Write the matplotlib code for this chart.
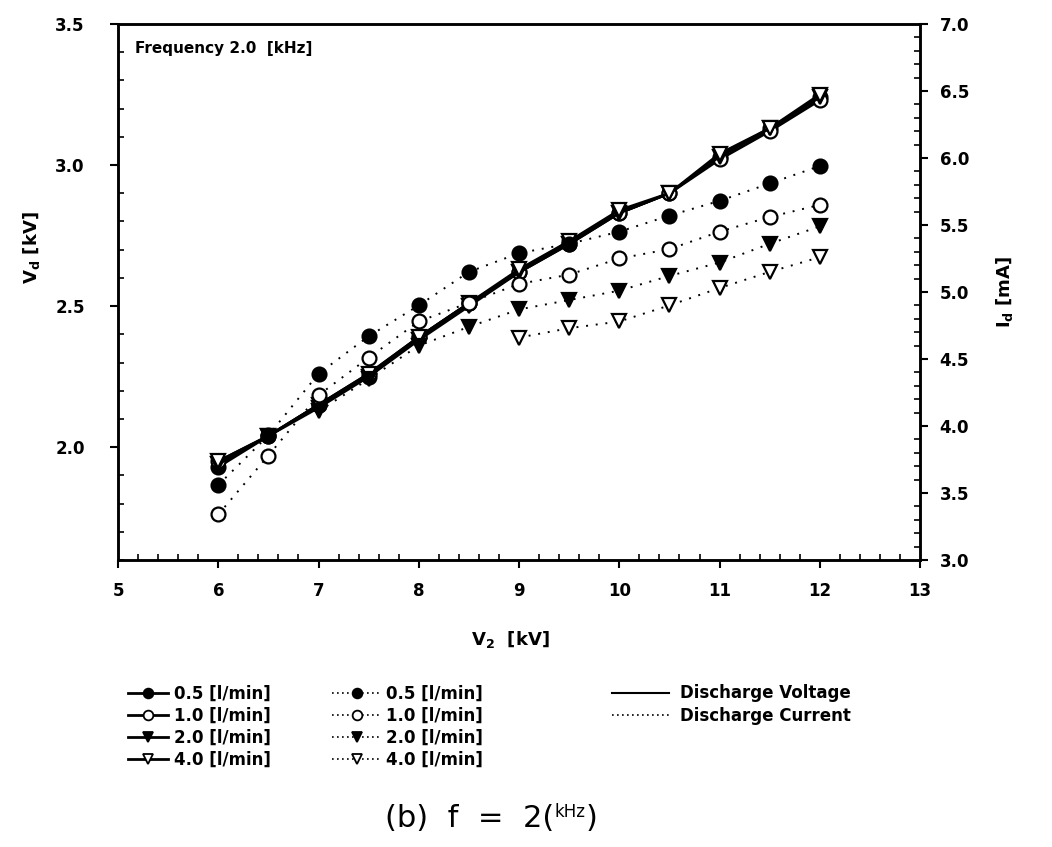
import matplotlib.pyplot as plt
from matplotlib.lines import Line2D
from matplotlib.ticker import MultipleLocator

plt.rcParams.update({'font.family': 'DejaVu Sans', 'font.weight': 'bold',
                     'axes.labelweight': 'bold',
                     'mathtext.fontset': 'custom', 'mathtext.rm': 'DejaVu Sans:bold',
                     'mathtext.bf': 'DejaVu Sans:bold', 'mathtext.it': 'DejaVu Sans:bold'})

# secondary voltage [kV]
v2 = [6.0, 6.5, 7.0, 7.5, 8.0, 8.5, 9.0, 9.5, 10.0, 10.5, 11.0, 11.5, 12.0]

# discharge voltage Vd [kV] for each gas flow rate
vd_05 = [1.93, 2.04, 2.15, 2.25, 2.39, 2.51, 2.62, 2.73, 2.83, 2.90, 3.03, 3.13, 3.24]
vd_10 = [1.95, 2.04, 2.15, 2.26, 2.39, 2.51, 2.62, 2.72, 2.83, 2.90, 3.02, 3.12, 3.23]
vd_20 = [1.94, 2.04, 2.14, 2.25, 2.38, 2.50, 2.62, 2.72, 2.83, 2.90, 3.03, 3.13, 3.24]
vd_40 = [1.95, 2.04, 2.15, 2.26, 2.39, 2.51, 2.63, 2.73, 2.84, 2.90, 3.04, 3.13, 3.25]

# discharge current Id [mA]
id_05 = [3.56, 3.93, 4.39, 4.67, 4.90, 5.15, 5.29, 5.36, 5.45, 5.57, 5.68, 5.81, 5.94]
id_10 = [3.34, 3.78, 4.23, 4.51, 4.78, 4.92, 5.06, 5.13, 5.25, 5.32, 5.45, 5.56, 5.65]
v2_20 = [7.0, 7.5, 8.0, 8.5, 9.0, 9.5, 10.0, 10.5, 11.0, 11.5, 12.0]
id_20 = [4.11, 4.35, 4.60, 4.74, 4.87, 4.94, 5.01, 5.12, 5.22, 5.36, 5.49]
v2_40 = [9.0, 9.5, 10.0, 10.5, 11.0, 11.5, 12.0]
id_40 = [4.66, 4.73, 4.78, 4.90, 5.03, 5.15, 5.26]

flow_labels = ['0.5 [l/min]', '1.0 [l/min]', '2.0 [l/min]', '4.0 [l/min]']
markers = ['o', 'o', 'v', 'v']
faces = ['black', 'white', 'black', 'white']
dots = (0, (1, 4))

fig = plt.figure(figsize=(10.52, 8.47), dpi=100)
ax = fig.add_axes([0.1122, 0.3388, 0.7624, 0.6329])
ax2 = ax.twinx()

vd_all = [vd_05, vd_10, vd_20, vd_40]
id_all = [(v2, id_05), (v2, id_10), (v2_20, id_20), (v2_40, id_40)]
for i in range(4):
    ax.plot(v2, vd_all[i], color='black', lw=2, marker=markers[i], ms=10,
            mfc=faces[i], mec='black', mew=1.6, zorder=3)
    xs, ys = id_all[i]
    ax2.plot(xs, ys, color='black', lw=1.4, ls=dots, marker=markers[i], ms=10,
             mfc=faces[i], mec='black', mew=1.6)

ax.set_xlim(5, 13)
ax.set_ylim(1.6, 3.5)
ax2.set_ylim(3.0, 7.0)
ax.set_xticks(range(5, 14))
ax.set_yticks([2.0, 2.5, 3.0, 3.5])
ax.xaxis.set_minor_locator(MultipleLocator(0.2))
ax.yaxis.set_minor_locator(MultipleLocator(0.1))
ax2.set_yticks([3.0, 3.5, 4.0, 4.5, 5.0, 5.5, 6.0, 6.5, 7.0])
ax2.yaxis.set_minor_locator(MultipleLocator(0.1))

ax.tick_params(which='major', direction='out', length=6, width=1.5, labelsize=12)
ax.tick_params(which='minor', direction='in', length=4, width=1.2)
ax.tick_params(axis='y', which='major', pad=18)
ax.tick_params(axis='x', which='major', pad=10)
ax2.tick_params(which='major', direction='out', length=6, width=1.5, labelsize=12, pad=8)
ax2.tick_params(which='minor', direction='in', length=4, width=1.2)
ax.yaxis.set_major_formatter('{x:.1f}')
ax2.yaxis.set_major_formatter('{x:.1f}')
for a in (ax, ax2):
    for s in a.spines.values():
        s.set_linewidth(1.8)

ax.set_xlabel(r'$\mathbf{V_2}$  [kV]', fontsize=13)
ax.xaxis.set_label_coords(0.489, -0.128)
ax.set_ylabel(r'$\mathbf{V_d}$ [kV]', fontsize=13)
ax.yaxis.set_label_coords(-0.095, 0.582)
ax2.set_ylabel(r'$\mathbf{I_d}$ [mA]', fontsize=13, labelpad=18)

ax.text(0.021, 0.955, 'Frequency 2.0  [kHz]', transform=ax.transAxes,
        fontsize=11, va='center', ha='left')

# legends below the chart
solid_h = [Line2D([], [], color='black', lw=2, marker=markers[i], ms=7,
                  mfc=faces[i], mec='black', mew=1.3) for i in range(4)]
dot_h = [Line2D([], [], color='black', lw=1.2, ls=(0, (1, 2)), marker=markers[i], ms=7,
                mfc=faces[i], mec='black', mew=1.3) for i in range(4)]
kind_h = [Line2D([], [], color='black', lw=1.5),
          Line2D([], [], color='black', lw=1.2, ls=(0, (1, 2)))]

common = dict(frameon=False, loc='upper left', fontsize=12, borderpad=0,
              borderaxespad=0, labelspacing=0.25)
fig.legend(solid_h, flow_labels, bbox_to_anchor=(0.1217, 0.1920),
           handlelength=2.4, handletextpad=0.35, **common)
fig.legend(dot_h, flow_labels, bbox_to_anchor=(0.3156, 0.1920),
           handlelength=3.0, handletextpad=0.25, **common)
fig.legend(kind_h, ['Discharge Voltage', 'Discharge Current'], bbox_to_anchor=(0.5817, 0.1920),
           handlelength=3.4, handletextpad=0.7, **common)

# caption with a small unit inside the bracket
fig.canvas.draw()
r = fig.canvas.get_renderer()
t1 = fig.text(385 / 1052, 0.034, '(b)  f  =  2(', fontsize=22, fontweight='normal',
              va='center', ha='left')
x1 = t1.get_window_extent(r).x1 / fig.bbox.width
t2 = fig.text(x1, 0.041, 'kHz', fontsize=12, fontweight='normal', va='center', ha='left')
x2 = t2.get_window_extent(r).x1 / fig.bbox.width
fig.text(x2, 0.034, ')', fontsize=22, fontweight='normal', va='center', ha='left')

fig.savefig('out.png', dpi=100)
